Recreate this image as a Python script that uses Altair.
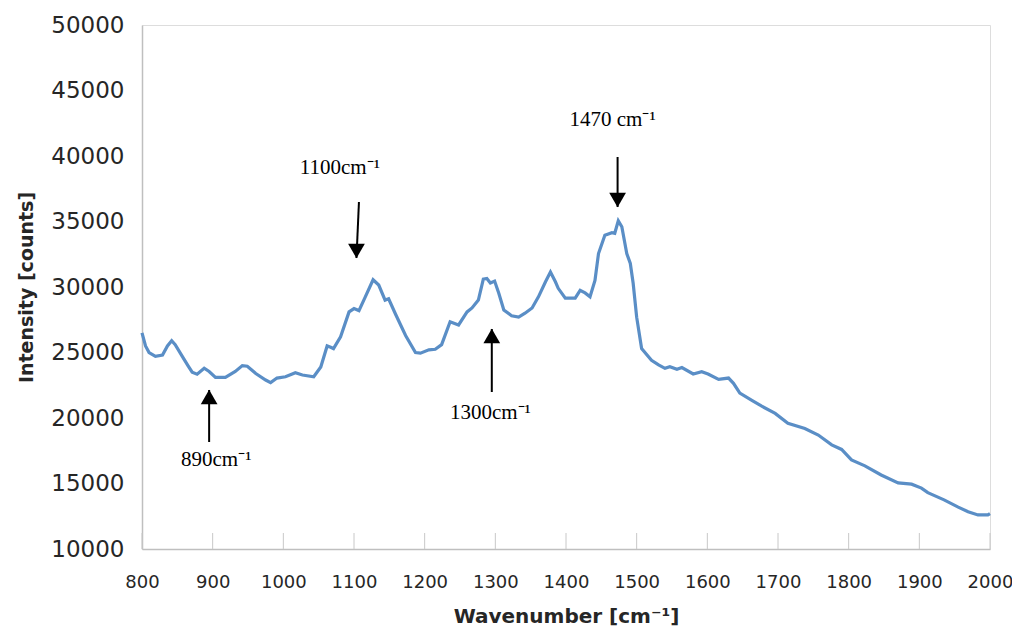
import altair as alt
import pandas as pd

# Spectrum values
wavenumber = [800, 805, 810, 819, 829, 836, 842, 847, 857, 865, 871, 878, 888, 895,
              904, 918, 932, 942, 949, 961, 975, 982, 991, 1003, 1010, 1017, 1027,
              1043, 1053, 1062, 1067, 1071, 1081, 1093, 1100, 1107, 1116, 1127, 1135,
              1144, 1149, 1159, 1173, 1187, 1194, 1206, 1215, 1224, 1236, 1248, 1260,
              1267, 1276, 1283, 1288, 1293, 1299, 1305, 1312, 1323, 1333, 1342, 1352,
              1361, 1371, 1378, 1385, 1389, 1399, 1413, 1420, 1427, 1434, 1441, 1446,
              1455, 1465, 1469, 1474, 1479, 1486, 1491, 1495, 1500, 1507, 1521, 1531,
              1540, 1547, 1557, 1564, 1580, 1592, 1601, 1616, 1630, 1637, 1646, 1663,
              1677, 1696, 1714, 1738, 1757, 1776, 1790, 1804, 1823, 1846, 1870, 1889,
              1903, 1912, 1935, 1955, 1969, 1983, 1997, 2000]
intensity = [26500, 25500, 25000, 24700, 24800, 25500, 25900, 25600, 24700, 24000,
             23500, 23350, 23800, 23550, 23100, 23100, 23550, 24000, 23950, 23400,
             22900, 22700, 23050, 23150, 23300, 23450, 23280, 23150, 23900, 25500,
             25400, 25300, 26200, 28100, 28350, 28200, 29250, 30550, 30150, 29000,
             29100, 27900, 26300, 25000, 24950, 25200, 25250, 25600, 27350, 27100,
             28100, 28400, 29000, 30600, 30650, 30300, 30450, 29500, 28250, 27800,
             27700, 28000, 28400, 29250, 30400, 31150, 30400, 29900, 29150, 29150,
             29750, 29550, 29250, 30500, 32550, 33950, 34150, 34100, 35050, 34600,
             32550, 31800, 30300, 27700, 25300, 24400, 24050, 23790, 23920, 23720,
             23850, 23360, 23540, 23360, 22950, 23050, 22650, 21900, 21350, 20900,
             20350, 19600, 19200, 18700, 17950, 17600, 16800, 16350, 15650, 15050,
             14950, 14650, 14300, 13750, 13200, 12850, 12600, 12600, 12700]

x_ticks = list(range(800, 2001, 100))
y_ticks = list(range(10000, 50001, 5000))

# Peak annotations
ann_label = ["1470 cm⁻¹", "1100cm⁻¹", "1300cm⁻¹", "890cm⁻¹"]
ann_text_x = [1466, 1080, 1293, 905]
ann_text_y = [42290, 38626, 19924, 16336]
arrow_x_start = [1473, 1107, 1295, 895]
arrow_x_tip = [1473, 1103.5, 1295, 895]
arrow_y_start = [39924, 36489, 21985, 18168]
arrow_y_tip = [36107, 32214, 26794, 22137]
arrow_dir = ["down", "down", "up", "up"]

W, H = 848, 524

spec = pd.DataFrame({"wn": wavenumber, "val": intensity})
ticks_df = pd.DataFrame({"t": x_ticks})
ann = pd.DataFrame({
    "label": ann_label, "tx": ann_text_x, "ty": ann_text_y,
    "x1": arrow_x_start, "x2": arrow_x_tip, "y1": arrow_y_start, "y2": arrow_y_tip,
    "dir": arrow_dir,
})

xscale = alt.Scale(domain=[800, 2000], nice=False, zero=False)
yscale = alt.Scale(domain=[10000, 50000], nice=False, zero=False)

x_axis = alt.Axis(
    values=x_ticks, format="d", grid=False, ticks=False, tickSize=0,
    labelOverlap=False, labelFlush=False, labelBound=False,
    domainColor="#bfbfbf", domainWidth=1.5,
    labelFont="DejaVu Sans", labelFontSize=18, labelColor="#262626", labelPadding=24,
    title="Wavenumber [cm⁻¹]", titleFont="DejaVu Sans", titleFontSize=20,
    titleFontWeight="bold", titleColor="#262626", titlePadding=15,
)
y_axis = alt.Axis(
    values=y_ticks, format="d", grid=False, ticks=False, tickSize=0,
    labelOverlap=False, labelFlush=False, labelBound=False,
    domainColor="#bfbfbf", domainWidth=1.5,
    labelFont="DejaVu Sans", labelFontSize=23, labelColor="#262626", labelPadding=18,
    title="Intensity [counts]", titleFont="DejaVu Sans", titleFontSize=19,
    titleFontWeight="bold", titleColor="#262626", titlePadding=14,
)

line = alt.Chart(spec).mark_line(color="#5a8ec6", strokeWidth=3.2).encode(
    x=alt.X("wn:Q", scale=xscale, axis=x_axis),
    y=alt.Y("val:Q", scale=yscale, axis=y_axis),
)

inner_ticks = alt.Chart(ticks_df).mark_rule(color="#c8c8c8", strokeWidth=1).encode(
    x=alt.X("t:Q", scale=xscale),
    y=alt.value(H - 16),
    y2=alt.value(H),
)

labels = alt.Chart(ann).mark_text(
    font="Liberation Serif", fontSize=21, color="black", baseline="alphabetic", align="center"
).encode(
    x=alt.X("tx:Q", scale=xscale), y=alt.Y("ty:Q", scale=yscale), text="label:N"
)

shafts = alt.Chart(ann).mark_rule(color="black", strokeWidth=2).encode(
    x=alt.X("x1:Q", scale=xscale), x2="x2:Q",
    y=alt.Y("y1:Q", scale=yscale), y2="y2:Q",
)

heads_down = alt.Chart(ann).transform_filter(alt.datum.dir == "down").mark_point(
    shape="triangle-down", filled=True, color="black", opacity=1, size=280, yOffset=-7
).encode(x=alt.X("x2:Q", scale=xscale), y=alt.Y("y2:Q", scale=yscale))

heads_up = alt.Chart(ann).transform_filter(alt.datum.dir == "up").mark_point(
    shape="triangle-up", filled=True, color="black", opacity=1, size=280, yOffset=7
).encode(x=alt.X("x2:Q", scale=xscale), y=alt.Y("y2:Q", scale=yscale))

chart = alt.layer(inner_ticks, line, shafts, heads_down, heads_up, labels).properties(
    width=W, height=H,
    autosize=alt.AutoSizeParams(type="none"),
    padding={"left": 134, "top": 17, "right": 22, "bottom": 86},
).configure_view(stroke=None).configure(background="white")

chart.save("out.html", embed_options={"renderer": "svg", "actions": False})
